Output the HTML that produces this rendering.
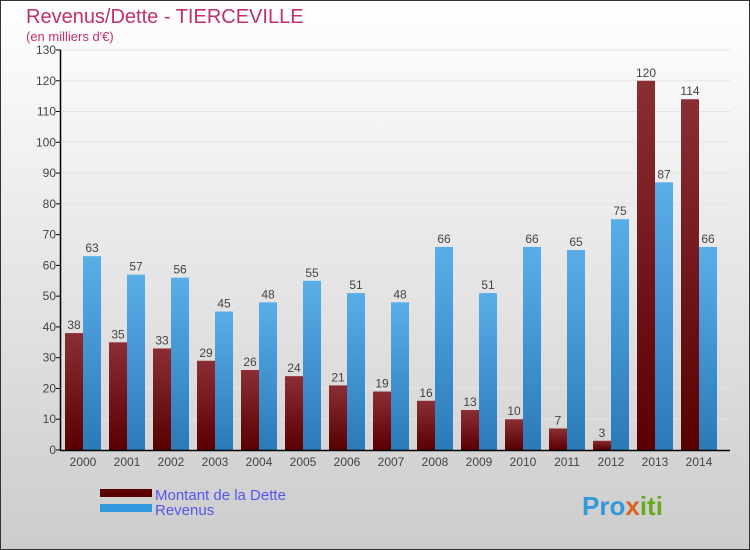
<!DOCTYPE html>
<html><head><meta charset="utf-8"><style>
body{margin:0}
svg{display:block;font-family:"Liberation Sans",sans-serif}
</style></head><body>
<svg id="c" width="750" height="550" viewBox="0 0 750 550">
<defs>
<linearGradient id="bg" x1="0" y1="0" x2="0" y2="1"><stop offset="0" stop-color="#ffffff"/><stop offset="1" stop-color="#cccccc"/></linearGradient>
<linearGradient id="gd" x1="0" y1="0" x2="0" y2="1"><stop offset="0" stop-color="#8a2e33"/><stop offset="1" stop-color="#5a0000"/></linearGradient>
<linearGradient id="gr" x1="0" y1="0" x2="0" y2="1"><stop offset="0" stop-color="#5aaee8"/><stop offset="1" stop-color="#2a7ab8"/></linearGradient>
</defs>
<rect x="0.5" y="0.5" width="749" height="549" fill="url(#bg)" stroke="#333"/>
<text x="26" y="23" font-size="20" fill="#c0306a">Revenus/Dette - TIERCEVILLE</text>
<text x="26" y="41" font-size="13" fill="#c0306a">(en milliers d'€)</text>
<g id="plot"></g>
<rect x="100" y="489" width="52" height="8" fill="#5a0000"/>
<text x="155" y="500" font-size="15" fill="#5555ee">Montant de la Dette</text>
<rect x="100" y="504" width="52" height="8" fill="#3399dd"/>
<text x="155" y="515" font-size="15" fill="#5555ee">Revenus</text>
<text x="582" y="515" font-size="26" font-weight="bold" fill="#3399dd">Pro<tspan fill="#e06020">x</tspan><tspan fill="#66aa22">iti</tspan></text>
</svg>
<script>
const years=["2000","2001","2002","2003","2004","2005","2006","2007","2008","2009","2010","2011","2012","2013","2014"];
const dette=[38,35,33,29,26,24,21,19,16,13,10,7,3,120,114];
const revenus=[63,57,56,45,48,55,51,48,66,51,66,65,75,87,66];
const ticks=[0,10,20,30,40,50,60,70,80,90,100,110,120,130];
const NS="http://www.w3.org/2000/svg";
const g=document.getElementById('plot');
const y=v=>450-v*400/130;
const x=i=>83+i*44;
function el(t,a,txt){const e=document.createElementNS(NS,t);for(const k in a)e.setAttribute(k,a[k]);if(txt!=null)e.textContent=txt;g.appendChild(e);return e;}
ticks.forEach(t=>{
 const l=el('line',{x1:61,x2:730,y1:y(t),y2:y(t),stroke:'#e4e4e4','stroke-width':1});
 
 
 const k=el('line',{x1:56,x2:61,y1:y(t),y2:y(t),stroke:'#000'});
 
 
 const tx=el('text',{x:56,y:y(t)+4,'text-anchor':'end','font-size':12,fill:'#444'},t);
 
 
});
years.forEach((yr,i)=>{
 const b1=el('rect',{x:x(i)-18,y:y(dette[i]),width:18,height:450-y(dette[i]),fill:'url(#gd)'});
 
 
 const b2=el('rect',{x:x(i),y:y(revenus[i]),width:18,height:450-y(revenus[i]),fill:'url(#gr)'});
 
 
 const v1=el('text',{x:x(i)-9,y:y(dette[i])-4,'text-anchor':'middle','font-size':12,fill:'#444'},dette[i]);
 
 
 const v2=el('text',{x:x(i)+9,y:y(revenus[i])-4,'text-anchor':'middle','font-size':12,fill:'#444'},revenus[i]);
 
 
 const xl=el('text',{x:x(i),y:466,'text-anchor':'middle','font-size':12,fill:'#444'},yr);
 
 
});
const ya=el('line',{x1:60.5,x2:60.5,y1:y(130),y2:450,stroke:'#000','stroke-width':1.5});


const xa=el('line',{x1:60,x2:730,y1:450.5,y2:450.5,stroke:'#000','stroke-width':1.5});


</script>
</body></html>
